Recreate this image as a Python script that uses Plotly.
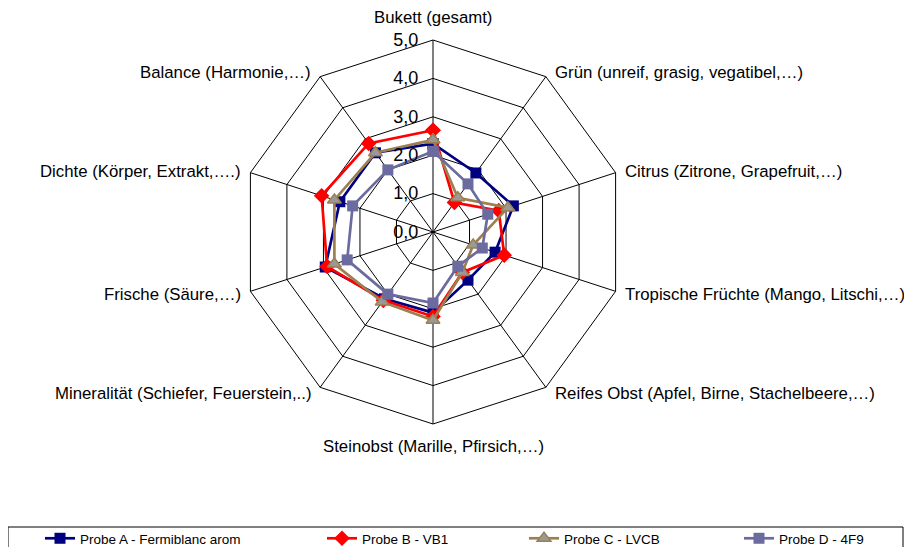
import math
import plotly.graph_objects as go

categories = [
    "Bukett (gesamt)",
    "Grün (unreif, grasig, vegatibel,…)",
    "Citrus (Zitrone, Grapefruit,…)",
    "Tropische Früchte (Mango, Litschi,…)",
    "Reifes Obst (Apfel, Birne, Stachelbeere,…)",
    "Steinobst (Marille, Pfirsich,…)",
    "Mineralität (Schiefer, Feuerstein,..)",
    "Frische (Säure,…)",
    "Dichte (Körper, Extrakt,….)",
    "Balance (Harmonie,…)",
]

probe_a = [2.3, 1.9, 2.2, 1.7, 1.55, 2.1, 2.15, 2.95, 2.55, 2.55]
probe_b = [2.65, 0.95, 1.8, 1.95, 1.3, 2.2, 2.2, 2.9, 3.05, 2.85]
probe_c = [2.4, 1.1, 2.05, 1.1, 1.3, 2.3, 2.25, 2.7, 2.7, 2.55]
probe_d = [2.1, 1.55, 1.5, 1.35, 1.1, 1.85, 2.0, 2.35, 2.2, 2.0]

series_names = ["Probe A - Fermiblanc arom", "Probe B - VB1", "Probe C - LVCB", "Probe D - 4F9"]
radial_ticks = [0, 1, 2, 3, 4, 5]

# ---- layout geometry (page pixels) ----
W, H = 912, 547
OFF = 8                      # page body margin offset
CX, CY, R = 433, 232, 192    # polar centre / radius


def fx(x):
    return (x - OFF) / W


def fy(y):
    return 1 - (y - OFF) / H


styles = [
    dict(line=dict(color="#000080", width=2.7), marker=dict(symbol="square", size=11, color="#000080")),
    dict(line=dict(color="#FF0000", width=2.7), marker=dict(symbol="diamond", size=12, color="#FF0000")),
    dict(line=dict(color="#9C8052", width=2.7), marker=dict(symbol="triangle-up", size=12, color="#999999",
                                                           line=dict(color="#9C8052", width=1.5))),
    dict(line=dict(color="#6B6BA0", width=2.7), marker=dict(symbol="square", size=11, color="#6B6BA0")),
]

legend_line_start = [43, 325, 527, 742]

fig = go.Figure()
for i, (name, vals) in enumerate(zip(series_names, [probe_a, probe_b, probe_c, probe_d])):
    lg = "legend" if i == 0 else f"legend{i+1}"
    fig.add_trace(go.Scatterpolar(
        r=vals + vals[:1], theta=categories + categories[:1], name=name,
        mode="lines+markers", legend=lg, **styles[i]))

fam = "Liberation Sans, Arial, sans-serif"
font = dict(family=fam, size=16.8, color="black")

layout_legends = {}
for i, x in enumerate(legend_line_start):
    key = "legend" if i == 0 else f"legend{i+1}"
    layout_legends[key] = dict(x=fx(x - 3), y=fy(523), xanchor="left", yanchor="top",
                               orientation="h", bgcolor="rgba(0,0,0,0)",
                               font=dict(family=fam, size=13.5, color="black"))

annotations = []
n = len(categories)
for k, cat in enumerate(categories):
    th = math.radians(360 * k / n)
    s, c = math.sin(th), math.cos(th)
    vx, vy = CX + R * s, CY - R * c
    if abs(s) < 1e-6:
        ax, ay, anc = vx, vy - 22 * c, "center"
    else:
        sg = 1 if s > 0 else -1
        ax = vx + sg * 7
        ay = vy - 6 * c + 1
        anc = "left" if sg > 0 else "right"
    annotations.append(dict(text=cat, x=fx(ax), y=fy(ay), xref="paper", yref="paper",
                            xanchor=anc, yanchor="middle", showarrow=False, font=font))

fig.update_layout(
    width=W, height=H,
    margin=dict(l=0, r=0, t=0, b=0, autoexpand=False),
    paper_bgcolor="white",
    font=font,
    separators=",.",
    showlegend=True,
    polar=dict(
        domain=dict(x=[fx(CX - R), fx(CX + R)], y=[fy(CY + R), fy(CY - R)]),
        bgcolor="white",
        gridshape="linear",
        radialaxis=dict(range=[0, 5], tickvals=radial_ticks, tickformat=".1f", angle=90,
                        tickangle=90, showline=False, gridcolor="black", gridwidth=1,
                        ticks="outside", ticklen=8, tickcolor="rgba(0,0,0,0)",
                        tickfont=dict(family=fam, size=18, color="black"), side="counterclockwise"),
        angularaxis=dict(direction="clockwise", rotation=90, gridcolor="black", gridwidth=1,
                         linecolor="black", linewidth=1, ticks="", showticklabels=False),
    ),
    annotations=annotations,
    shapes=[dict(type="rect", xref="paper", yref="paper", x0=fx(8), x1=fx(903),
                 y0=-0.2, y1=fy(527), line=dict(color="black", width=1))],
    **layout_legends,
)

fig.write_html("out.html")
